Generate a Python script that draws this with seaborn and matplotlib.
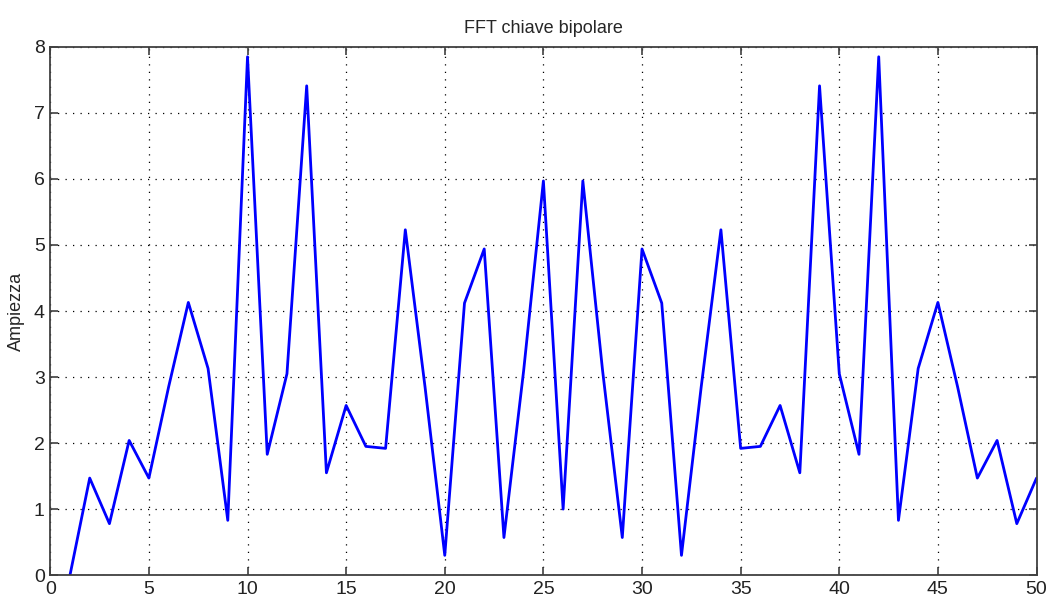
import matplotlib
matplotlib.use("Agg")
import matplotlib.pyplot as plt
import pandas as pd
import seaborn as sns

# FFT magnitude samples
campioni = list(range(1, 51))
ampiezza = [0.0, 1.47, 0.78, 2.04, 1.47, 2.85, 4.13, 3.13, 0.83, 7.85,
            1.83, 3.05, 7.41, 1.55, 2.57, 1.95, 1.92, 5.23, 2.85, 0.30,
            4.12, 4.94, 0.57, 3.1, 5.97, 1.0, 5.97, 3.1, 0.57, 4.94,
            4.12, 0.30, 2.85, 5.23, 1.92, 1.95, 2.57, 1.55, 7.41, 3.05,
            1.83, 7.85, 0.83, 3.13, 4.13, 2.85, 1.47, 2.04, 0.78, 1.47]
xticks = list(range(0, 51, 5))
yticks = list(range(0, 9))

df = pd.DataFrame({"n": campioni, "Ampiezza": ampiezza})

sns.set_style("white")
plt.rcParams["font.family"] = ["Liberation Sans Narrow", "Liberation Sans", "DejaVu Sans"]

fig = plt.figure(figsize=(10.47, 6.01), dpi=100)
ax = fig.add_axes([0.048, 0.043, 0.942, 0.879])

sns.lineplot(data=df, x="n", y="Ampiezza", color="#0000ff", linewidth=2.0, ax=ax)

ax.set_xlim(0, 50)
ax.set_ylim(0, 8)
ax.set_xticks(xticks)
ax.set_yticks(yticks)
ax.set_xlabel("")
ax.set_ylabel("Ampiezza", fontsize=13, labelpad=6)
ax.set_title("FFT chiave bipolare", fontsize=13, pad=10)

ax.grid(True, linestyle=(0, (1, 5)), color="black", linewidth=0.9)
ax.tick_params(direction="in", length=6, width=1.2, color="#404040",
               labelsize=14, labelcolor="#222222", top=True, right=True,
               bottom=True, left=True, pad=4)
for s in ax.spines.values():
    s.set_color("#404040")
    s.set_linewidth(1.3)

fig.savefig("out.png", dpi=100)
